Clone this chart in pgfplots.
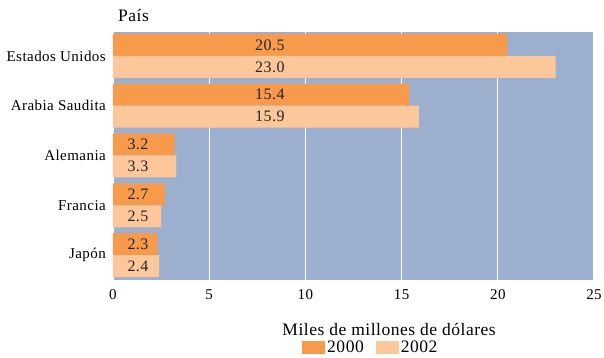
\documentclass[border=0pt]{standalone}
\usepackage{pgfplots}
\pgfplotsset{compat=1.18}
\usepackage{fontspec}
\setmainfont[LetterSpace=3]{Liberation Serif}

\definecolor{bgblue}{HTML}{9CAFCF}
\definecolor{c2000}{HTML}{F79A4C}
\definecolor{c2002}{HTML}{FCC79A}

\begin{document}
\fontsize{15bp}{18bp}\selectfont
\begin{tikzpicture}
\useasboundingbox (-113bp,-78bp) rectangle (491bp,280bp);
\begin{axis}[
    at={(0,0)}, anchor=south west,
    scale only axis, width=481bp, height=248bp,
    xmin=0, xmax=25, ymin=-0.5, ymax=4.48,
    xtick={0,5,...,25}, ytick={0,...,4},
    yticklabels={Japón,Francia,Alemania,Arabia Saudita,Estados Unidos},
    major tick length=0pt,
    axis background/.style={fill=bgblue},
    axis line style={draw=none},
    xmajorgrids, grid style={white, line width=1.2bp},
    /pgf/number format/assume math mode=true,
    xticklabel style={yshift=-4bp},
    yticklabel style={xshift=-2bp},
    xlabel={Miles de millones de dólares},
    xlabel style={at={(axis description cs:0.574,0)}, anchor=base, yshift=-55bp,
        font=\fontsize{17.5bp}{20bp}\selectfont},
    legend columns=2,
    legend style={draw=none, fill=none, at={(axis description cs:0.393,-0.274)},
        anchor=west, inner sep=0pt, font=\fontsize{17.5bp}{20bp}\selectfont,
        /tikz/every even column/.append style={column sep=10bp}},
    legend image code/.code={\fill[#1,draw=none] (0bp,-6.5bp) rectangle (23bp,6.5bp);},
]
\addplot[xbar, bar width=22bp, bar shift=11bp, fill=c2000, draw=none]
    coordinates {(20.5,4) (15.4,3) (3.2,2) (2.7,1) (2.3,0)};
\addplot[xbar, bar width=22bp, bar shift=-11bp, fill=c2002, draw=none]
    coordinates {(23.0,4) (15.9,3) (3.3,2) (2.5,1) (2.4,0)};
\legend{2000,2002}

% value labels
\addplot[forget plot, only marks, mark=none, nodes near coords,
    point meta=explicit symbolic,
    nodes near coords style={anchor=center, text=black!85,
        font=\fontsize{16bp}{18bp}\selectfont}]
    coordinates {(8.15,4.22)[20.5] (8.15,3.78)[23.0] (8.15,3.22)[15.4] (8.15,2.78)[15.9]
        (1.3,2.22)[3.2] (1.3,1.78)[3.3] (1.3,1.22)[2.7] (1.3,0.78)[2.5]
        (1.3,0.22)[2.3] (1.3,-0.22)[2.4]};

\draw[white, line width=1bp] (rel axis cs:0,1) -- (rel axis cs:1,1);
\end{axis}
\node[anchor=base west, font=\fontsize{17.5bp}{20bp}\selectfont] at (0bp,258bp) {País};
\end{tikzpicture}
\end{document}
